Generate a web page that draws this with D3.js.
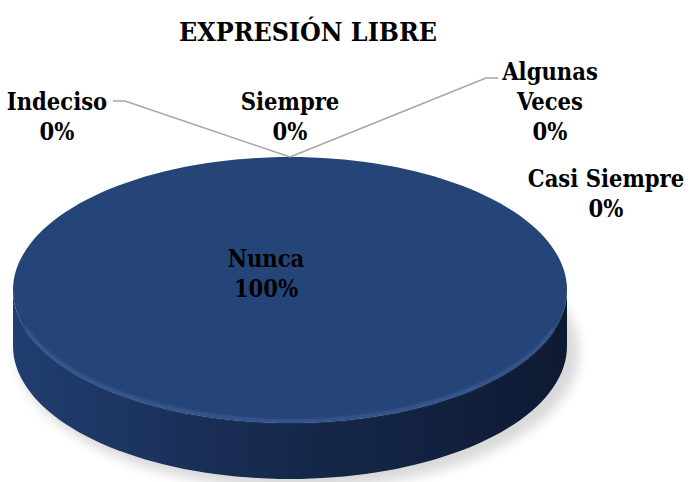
<!DOCTYPE html>
<html>
<head>
<meta charset="utf-8">
<script src="https://cdn.jsdelivr.net/npm/d3@7"></script>
<style>
  body { margin: 0; background: #fff; }
</style>
</head>
<body>
<script>
var w = 698;
var h = 482;
var font = "'DejaVu Serif Condensed', 'DejaVu Serif', serif";

// data
var categories = ["Siempre", "Casi Siempre", "Algunas Veces", "Nunca", "Indeciso"];
var values = [0, 0, 0, 100, 0];
var labelLines = [["Siempre", "0%"], ["Casi Siempre", "0%"], ["Algunas", "Veces", "0%"], ["Nunca", "100%"], ["Indeciso", "0%"]];
var title = "EXPRESIÓN LIBRE";

// layout (where Excel put the labels)
var labelPos = [[290, 110], [606, 187], [550, 80], [266, 267], [57, 110]];
var leaderEnd = [null, null, [498, 78], null, [113, 101]];

var cx = 290, cy = 290, rx = 277, ry = 133, depth = 56;

var svg = d3.select("body")
			.append("svg")
			.attr("width", w)
			.attr("height", h);

var defs = svg.append("defs");
var grad = defs.append("linearGradient").attr("id", "side")
	.attr("x1", "0%").attr("x2", "100%").attr("y1", "0%").attr("y2", "0%");
grad.append("stop").attr("offset", "0%").attr("stop-color", "#213e71");
grad.append("stop").attr("offset", "45%").attr("stop-color", "#172a4e");
grad.append("stop").attr("offset", "100%").attr("stop-color", "#0e1a33");
defs.append("filter").attr("id", "blur").append("feGaussianBlur").attr("stdDeviation", 6);
defs.append("filter").attr("id", "blur2").append("feGaussianBlur").attr("stdDeviation", 1.5);

var pie = d3.pie().sort(null).value(function(d){ return d; });
var arcs = pie(values);

// angle -> point on the ellipse (0 = top, clockwise)
var ang = d3.scaleLinear().domain([0, 2 * Math.PI]).range([0, 2 * Math.PI]);
function px(a){ return cx + rx * Math.sin(ang(a)); }
function py(a, off){ return cy - ry * Math.cos(ang(a)) + (off || 0); }

function ellipsePts(a0, a1, off, n){
	var pts = [];
	for (var i = 0; i <= n; i++){
		var a = a0 + (a1 - a0) * i / n;
		pts.push([px(a), py(a, off)]);
	}
	return pts;
}
var line = d3.line();

// shadow
svg.append("ellipse")
	.attr("cx", cx + 8).attr("cy", cy + depth + 6)
	.attr("rx", rx + 4).attr("ry", ry + 4)
	.attr("fill", "#000").attr("opacity", 0.15)
	.attr("filter", "url(#blur)");

// side walls of every slice (front half only)
arcs.forEach(function(d){
	var a0 = Math.max(d.startAngle, Math.PI / 2);
	var a1 = Math.min(d.endAngle, 3 * Math.PI / 2);
	if (a1 <= a0) return;
	var top = ellipsePts(a0, a1, 0, 80);
	var bot = ellipsePts(a0, a1, depth, 80).reverse();
	svg.append("path")
		.attr("d", line(top.concat(bot)) + "Z")
		.attr("fill", "url(#side)");
});

// top faces
arcs.forEach(function(d){
	if (d.endAngle - d.startAngle <= 0) return;
	var pts = ellipsePts(d.startAngle, d.endAngle, 0, 160);
	if (d.endAngle - d.startAngle < 2 * Math.PI) pts.push([cx, cy]);
	svg.append("path")
		.attr("d", line(pts) + "Z")
		.attr("fill", "#254478");
});

// rim highlight
svg.append("path")
	.attr("d", line(ellipsePts(Math.PI * 0.6, Math.PI * 1.4, -2, 80)))
	.attr("fill", "none")
	.attr("stroke", "#4a6ca6")
	.attr("stroke-width", 2.5)
	.attr("opacity", 0.7)
	.attr("filter", "url(#blur2)");

// leader lines
leaderEnd.forEach(function(e, i){
	if (!e) return;
	var a = arcs[i].startAngle;
	var dir = e[0] > cx ? -1 : 1;
	svg.append("polyline")
		.attr("points", [e, [e[0] + dir * 12, e[1]], [px(a), py(a)]].map(function(p){ return p.join(","); }).join(" "))
		.attr("fill", "none")
		.attr("stroke", "#a6a6a6")
		.attr("stroke-width", 1.5);
});

// labels
labelLines.forEach(function(lines, i){
	var t = svg.append("text")
		.attr("text-anchor", "middle")
		.style("font-family", font)
		.style("font-weight", "bold")
		.style("font-size", "23.5px")
		.attr("fill", "#000")
		.attr("x", labelPos[i][0])
		.attr("y", labelPos[i][1]);
	lines.forEach(function(s, j){
		t.append("tspan")
			.attr("x", labelPos[i][0])
			.attr("dy", j == 0 ? 0 : 30)
			.text(s);
	});
});

svg.append("text")
	.attr("x", 308).attr("y", 41)
	.attr("text-anchor", "middle")
	.style("font-family", font)
	.style("font-weight", "bold")
	.style("font-size", "26.5px")
	.attr("fill", "#000")
	.text(title);
</script>
</body>
</html>
